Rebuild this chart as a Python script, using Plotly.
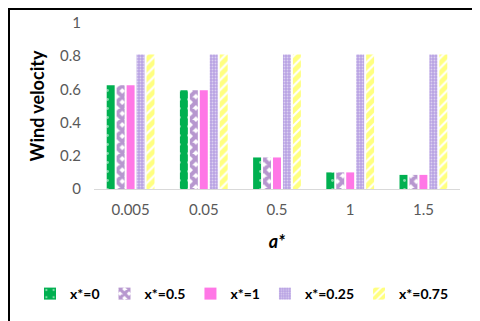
import plotly.graph_objects as go

categories = ["0.005", "0.05", "0.5", "1", "1.5"]
series_names = ["x*=0", "x*=0.5", "x*=1", "x*=0.25", "x*=0.75"]
v_x0 = [0.625, 0.595, 0.19, 0.10, 0.085]
v_x05 = [0.625, 0.595, 0.19, 0.10, 0.085]
v_x1 = [0.625, 0.595, 0.19, 0.10, 0.085]
v_x025 = [0.81, 0.81, 0.81, 0.81, 0.81]
v_x075 = [0.81, 0.81, 0.81, 0.81, 0.81]

styles = [
    dict(color="#00b050", pattern=dict(shape=".", fgcolor="white", bgcolor="#00b050", size=9, solidity=0.08)),
    dict(color="#7030a0", pattern=dict(shape="x", fgcolor="#7030a0", bgcolor="white", size=8, solidity=0.75)),
    dict(color="#ff77e6"),
    dict(color="#b9a3e3", pattern=dict(shape=".", fgcolor="white", bgcolor="#b9a3e3", size=3, solidity=0.3)),
    dict(color="#ffff00", pattern=dict(shape="/", fgcolor="#ffff00", bgcolor="white", size=7, solidity=0.7)),
]

fig = go.Figure()
for name, vals, st in zip(series_names, [v_x0, v_x05, v_x1, v_x025, v_x075], styles):
    fig.add_trace(go.Bar(x=categories, y=vals, name=name, marker=dict(line=dict(width=0), **st)))

W, H = 480, 321
l, r, t, b = 86, 28, 15, 140
pw, ph = W - l - r, H - t - b
fam = "Lato, Liberation Sans, sans-serif"

fig.update_layout(
    width=W, height=H,
    margin=dict(l=l, r=r, t=t, b=b, autoexpand=False),
    paper_bgcolor="white", plot_bgcolor="white",
    font=dict(family=fam, color="#595959"),
    barmode="group", bargap=0.32, bargroupgap=0.2,
    showlegend=True,
    legend=dict(orientation="h", x=(22 - l) / pw, xanchor="left",
                y=(H - b - 286) / ph, yanchor="middle", bgcolor="rgba(0,0,0,0)",
                font=dict(size=14, color="black", family=fam, weight="bold"),
                itemwidth=30, traceorder="normal"),
    xaxis=dict(showline=True, linecolor="#d9d9d9", linewidth=1, ticks="", ticklabelstandoff=7,
               tickangle=0, tickfont=dict(size=15, color="#595959"),
               title=dict(text="<b><i>a*</i></b>", font=dict(size=18, color="black"), standoff=18)),
    yaxis=dict(range=[0, 1], dtick=0.2, showgrid=False, zeroline=False, showline=False,
               ticklabelstandoff=12, tickfont=dict(size=15, color="#595959"), tickformat="~g",
               title=dict(text="<b>Wind velocity</b>", font=dict(size=18, color="black"), standoff=10)),
    shapes=[dict(type="rect", xref="paper", yref="paper",
                 x0=(1 - l) / pw, x1=(W - 1 - l) / pw, y0=(H - b - (H - 1)) / ph, y1=(H - b - 1) / ph,
                 line=dict(color="black", width=2), layer="above")],
)

fig.write_html("out.html")
